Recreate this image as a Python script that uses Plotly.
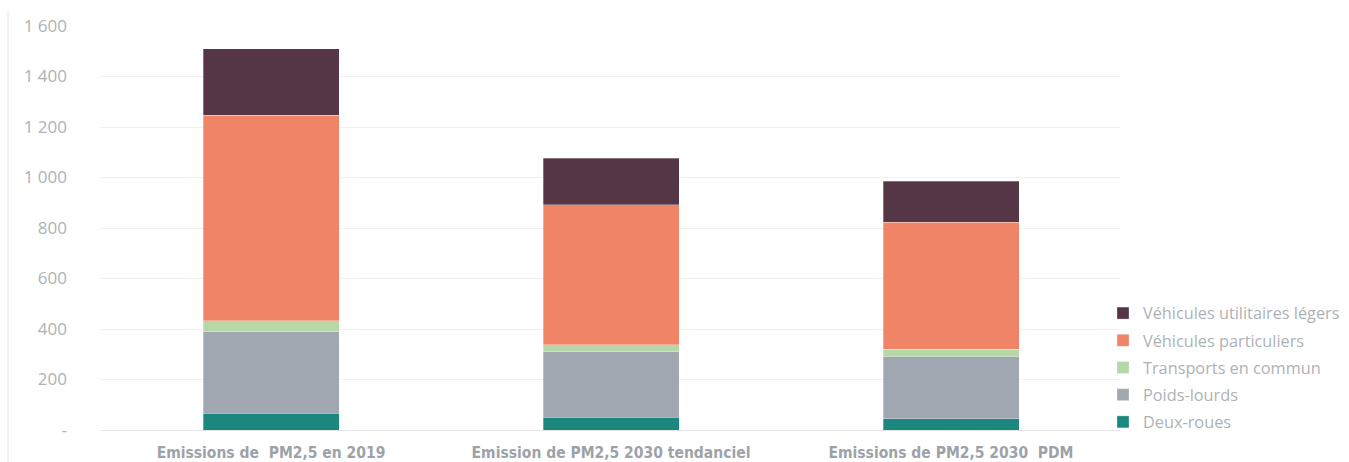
import plotly.graph_objects as go

categories = [
    "Emissions de  PM2,5 en 2019",
    "Emission de PM2,5 2030 tendanciel",
    "Emissions de PM2,5 2030  PDM",
]

deux_roues = [66, 50, 44]
poids_lourds = [324, 260, 247]
transports_commun = [42, 27, 29]
vehicules_particuliers = [814, 555, 503]
vehicules_utilitaires = [263, 185, 162]

y_tick_vals = [0, 200, 400, 600, 800, 1000, 1200, 1400, 1600]
y_tick_text = ["-", "200", "400", "600", "800", "1 000", "1 200", "1 400", "1 600"]

series = [
    ("Deux-roues", deux_roues, "#1b877f"),
    ("Poids-lourds", poids_lourds, "#a0a7b0"),
    ("Transports en commun", transports_commun, "#b6d7a8"),
    ("Véhicules particuliers", vehicules_particuliers, "#f08467"),
    ("Véhicules utilitaires légers", vehicules_utilitaires, "#553646"),
]

fig = go.Figure()
for i, (name, vals, color) in enumerate(series):
    # legend lists the top segment first
    fig.add_trace(go.Bar(
        x=categories, y=vals, name=name, legendgroup=name,
        legendrank=1000 - i,
        marker=dict(color=color, line=dict(color="rgba(255,255,255,0.6)", width=0.5)),
        width=0.4,
    ))

label_grey = "#aeb2b6"

fig.update_layout(
    barmode="stack",
    width=1349, height=462,
    margin=dict(l=101, r=228, t=26, b=32, autoexpand=False),
    plot_bgcolor="white", paper_bgcolor="white",
    font=dict(family="Open Sans", color=label_grey),
    showlegend=True,
    legend=dict(
        traceorder="grouped",
        x=(1103 - 101) / 1020, xanchor="left", y=-9 / 404, yanchor="bottom",
        font=dict(family="Open Sans", size=16.3, color=label_grey),
        itemwidth=30, tracegroupgap=3,
        bgcolor="rgba(0,0,0,0)",
    ),
    xaxis=dict(
        showgrid=False, zeroline=False, automargin=False,
        showline=True, linecolor="#e4e4e4", linewidth=1,
        tickfont=dict(family="DejaVu Sans Condensed, Liberation Sans Narrow, sans-serif",
                      size=15.5, color="#9da2a8", weight="bold"),
        ticks="", ticklabelstandoff=8,
    ),
    yaxis=dict(
        range=[0, 1600], automargin=False,
        tickvals=y_tick_vals, ticktext=y_tick_text,
        showgrid=True, gridcolor="#f0f0f0", gridwidth=1,
        zeroline=False, showline=False,
        tickfont=dict(family="Open Sans", size=17, color=label_grey),
        ticks="", ticklabelstandoff=33,
    ),
    shapes=[dict(
        type="line", xref="paper", yref="paper",
        x0=(8 - 101) / 1020, x1=(8 - 101) / 1020,
        y0=-32 / 404, y1=(430 - 10) / 404,
        line=dict(color="#e6e6e6", width=1),
    )],
)

fig.write_html("out.html")
